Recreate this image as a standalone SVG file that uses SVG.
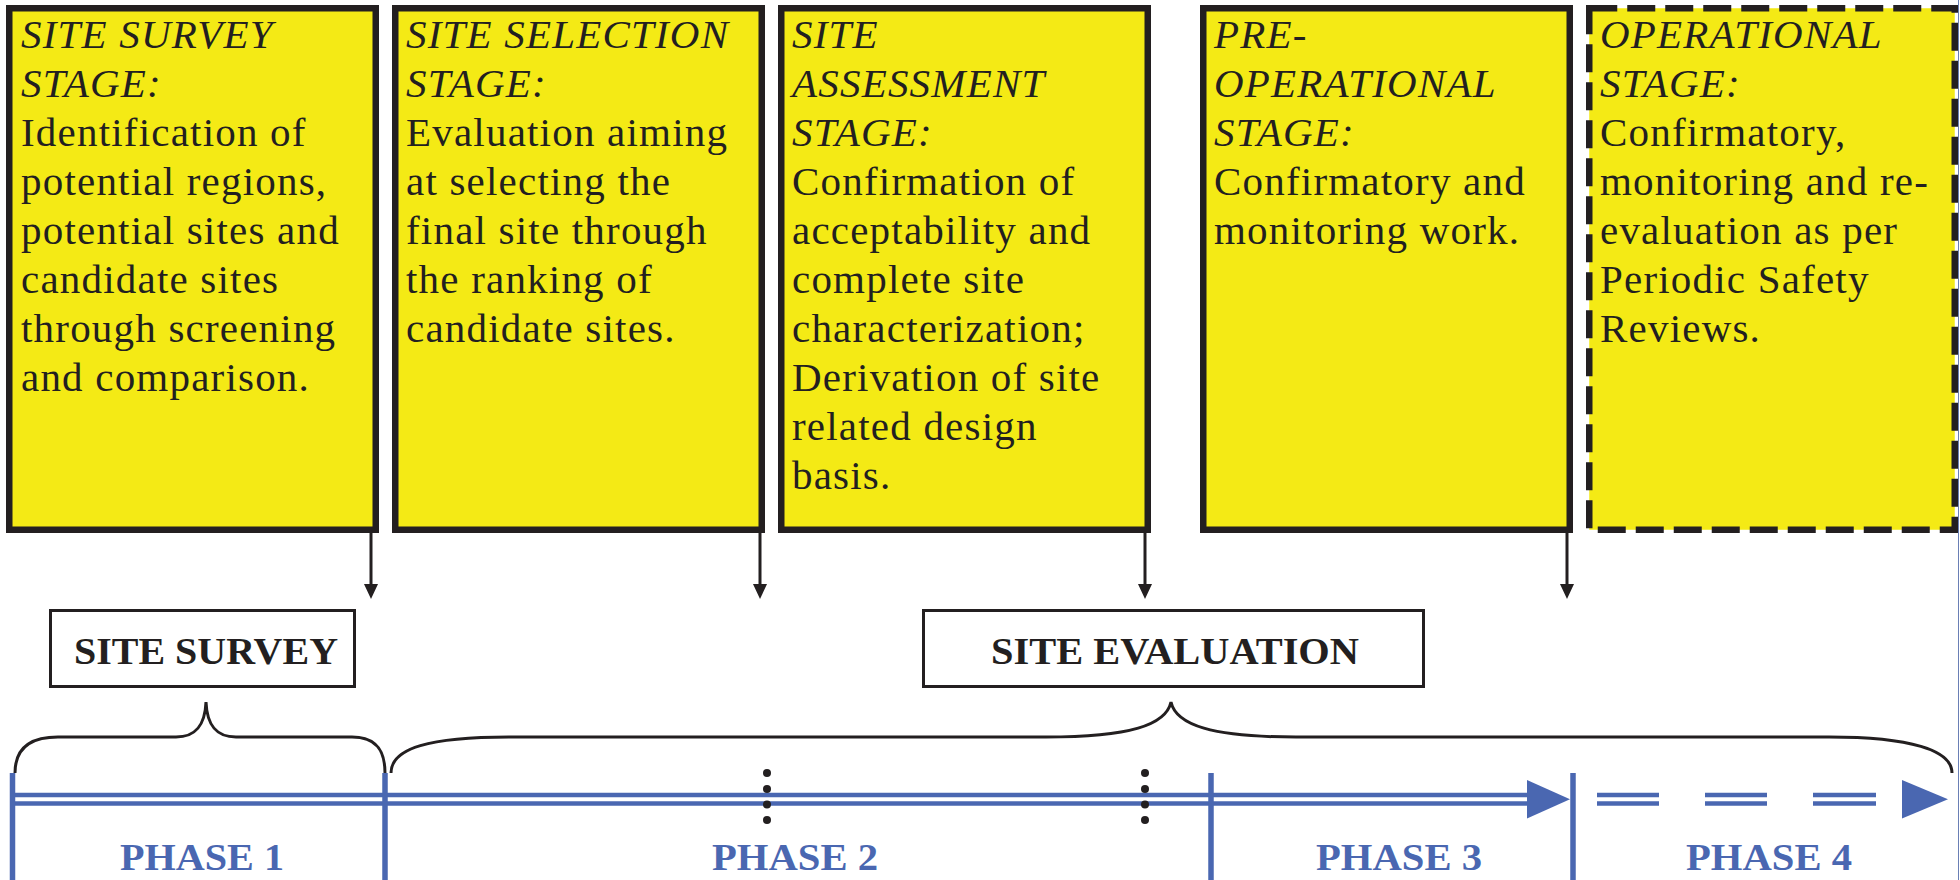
<svg xmlns="http://www.w3.org/2000/svg" width="1960" height="880" viewBox="0 0 1960 880">
<style>
.stage{fill:#F4EA15;stroke:#231F20;stroke-width:6.5}
.dashed{stroke-dasharray:28 10}
.txt{font-family:"Liberation Serif","Times New Roman",serif;font-size:41px;fill:#231F20;letter-spacing:1.2px}
.hd{font-style:italic}
.lbl{fill:#fff;stroke:#231F20;stroke-width:3}
.lbltxt{font-family:"Liberation Serif","Times New Roman",serif;font-size:38px;font-weight:bold;fill:#231F20;text-anchor:middle}
.brace{fill:none;stroke:#231F20;stroke-width:3}
.blue{stroke:#4A67B1;fill:none}
.bluef{fill:#4A67B1}
.phase{font-family:"Liberation Serif","Times New Roman",serif;font-size:38px;font-weight:bold;fill:#4A67B1;text-anchor:middle}
.arr{stroke:#231F20;stroke-width:3;fill:none;marker-end:url(#ah)}
.dot{fill:#231F20}
</style>
<defs>
<marker id="ah" markerWidth="15" markerHeight="14" refX="0" refY="7" orient="auto" markerUnits="userSpaceOnUse">
<path d="M0,0 L15,7 L0,14 z" fill="#231F20"/>
</marker>
</defs>

<g id="stage-site-survey">
<rect class="stage" x="9.25" y="8.25" width="366.5" height="521.5"/>
<text class="txt" x="21"><tspan class="hd" x="21" y="48">SITE SURVEY</tspan><tspan class="hd" x="21" y="97">STAGE:</tspan><tspan x="21" y="146">Identification of</tspan><tspan x="21" y="195">potential regions,</tspan><tspan x="21" y="244">potential sites and</tspan><tspan x="21" y="293">candidate sites</tspan><tspan x="21" y="342">through screening</tspan><tspan x="21" y="391">and comparison.</tspan></text>
</g>

<g id="stage-site-selection">
<rect class="stage" x="395.25" y="8.25" width="366.5" height="521.5"/>
<text class="txt"><tspan class="hd" x="406" y="48">SITE SELECTION</tspan><tspan class="hd" x="406" y="97">STAGE:</tspan><tspan x="406" y="146">Evaluation aiming</tspan><tspan x="406" y="195">at selecting the</tspan><tspan x="406" y="244">final site through</tspan><tspan x="406" y="293">the ranking of</tspan><tspan x="406" y="342">candidate sites.</tspan></text>
</g>

<g id="stage-site-assessment">
<rect class="stage" x="781.25" y="8.25" width="366.5" height="521.5"/>
<text class="txt"><tspan class="hd" x="792" y="48">SITE</tspan><tspan class="hd" x="792" y="97">ASSESSMENT</tspan><tspan class="hd" x="792" y="146">STAGE:</tspan><tspan x="792" y="195">Confirmation of</tspan><tspan x="792" y="244">acceptability and</tspan><tspan x="792" y="293">complete site</tspan><tspan x="792" y="342">characterization;</tspan><tspan x="792" y="391">Derivation of site</tspan><tspan x="792" y="440">related design</tspan><tspan x="792" y="489">basis.</tspan></text>
</g>

<g id="stage-pre-operational">
<rect class="stage" x="1203.25" y="8.25" width="366.5" height="521.5"/>
<text class="txt"><tspan class="hd" x="1214" y="48">PRE-</tspan><tspan class="hd" x="1214" y="97">OPERATIONAL</tspan><tspan class="hd" x="1214" y="146">STAGE:</tspan><tspan x="1214" y="195">Confirmatory and</tspan><tspan x="1214" y="244">monitoring work.</tspan></text>
</g>

<g id="stage-operational">
<rect class="stage dashed" x="1589.25" y="8.25" width="365.5" height="521.5"/>
<text class="txt"><tspan class="hd" x="1600" y="48">OPERATIONAL</tspan><tspan class="hd" x="1600" y="97">STAGE:</tspan><tspan x="1600" y="146">Confirmatory,</tspan><tspan x="1600" y="195">monitoring and re-</tspan><tspan x="1600" y="244">evaluation as per</tspan><tspan x="1600" y="293">Periodic Safety</tspan><tspan x="1600" y="342">Reviews.</tspan></text>
</g>

<g id="label-site-survey">
<rect class="lbl" x="50.5" y="610.5" width="304" height="76"/>
<text class="lbltxt" x="206" y="664" textLength="264" lengthAdjust="spacingAndGlyphs">SITE SURVEY</text>
</g>

<g id="label-site-evaluation">
<rect class="lbl" x="923.5" y="610.5" width="500" height="76"/>
<text class="lbltxt" x="1175" y="664" textLength="368" lengthAdjust="spacingAndGlyphs">SITE EVALUATION</text>
</g>

<g id="brace-survey">
<path class="brace" d="M15,773 C15,748 30,737 58,737 L176,737 C196,737 205,725 206,702 C207,725 216,737 236,737 L352,737 C376,737 385,750 385,773"/>
</g>

<g id="brace-evaluation">
<path class="brace" d="M391,773 C391,748 430,737 509,737 L1046,737 C1130,737 1166,725 1171,702 C1176,725 1212,737 1296,737 L1829,737 C1910,737 1952,750 1952,773"/>
</g>

<g id="timeline">
<line class="blue" x1="12" y1="795" x2="1530" y2="795" stroke-width="4.3"/>
<line class="blue" x1="12" y1="803.5" x2="1530" y2="803.5" stroke-width="4.3"/>
<polygon class="bluef" points="1527,780 1570,799.25 1527,818.5"/>
<g class="blue" stroke-width="4.3">
<line x1="1597" y1="795" x2="1659" y2="795"/><line x1="1597" y1="803.5" x2="1659" y2="803.5"/>
<line x1="1705" y1="795" x2="1767" y2="795"/><line x1="1705" y1="803.5" x2="1767" y2="803.5"/>
<line x1="1813" y1="795" x2="1876" y2="795"/><line x1="1813" y1="803.5" x2="1876" y2="803.5"/>
</g>
<polygon class="bluef" points="1902,780 1948,799.25 1902,818.5"/>
<g class="blue" stroke-width="5.5">
<line x1="12.5" y1="773" x2="12.5" y2="880"/>
<line x1="385" y1="773" x2="385" y2="880"/>
<line x1="1211" y1="773" x2="1211" y2="880"/>
<line x1="1573" y1="773" x2="1573" y2="880"/>
</g>
<g class="dot">
<circle cx="767" cy="773" r="4"/><circle cx="767" cy="789" r="4"/><circle cx="767" cy="804.5" r="4"/><circle cx="767" cy="820" r="4"/>
<circle cx="1145" cy="773" r="4"/><circle cx="1145" cy="789" r="4"/><circle cx="1145" cy="804.5" r="4"/><circle cx="1145" cy="820" r="4"/>
</g>
</g>

<g id="phase-1"><text class="phase" x="202" y="870" textLength="164" lengthAdjust="spacingAndGlyphs">PHASE 1</text></g>
<g id="phase-2"><text class="phase" x="795" y="870" textLength="166" lengthAdjust="spacingAndGlyphs">PHASE 2</text></g>
<g id="phase-3"><text class="phase" x="1399" y="870" textLength="166" lengthAdjust="spacingAndGlyphs">PHASE 3</text></g>
<g id="phase-4"><text class="phase" x="1769" y="870" textLength="166" lengthAdjust="spacingAndGlyphs">PHASE 4</text></g>

<g id="connectors">
<path class="arr" d="M371,533 L371,584"/>
<path class="arr" d="M760,533 L760,584"/>
<path class="arr" d="M1145,533 L1145,584"/>
<path class="arr" d="M1567,533 L1567,584"/>
</g>

<line x1="1958.5" y1="0" x2="1958.5" y2="880" stroke="#6A7FB5" stroke-width="1"/>
</svg>
